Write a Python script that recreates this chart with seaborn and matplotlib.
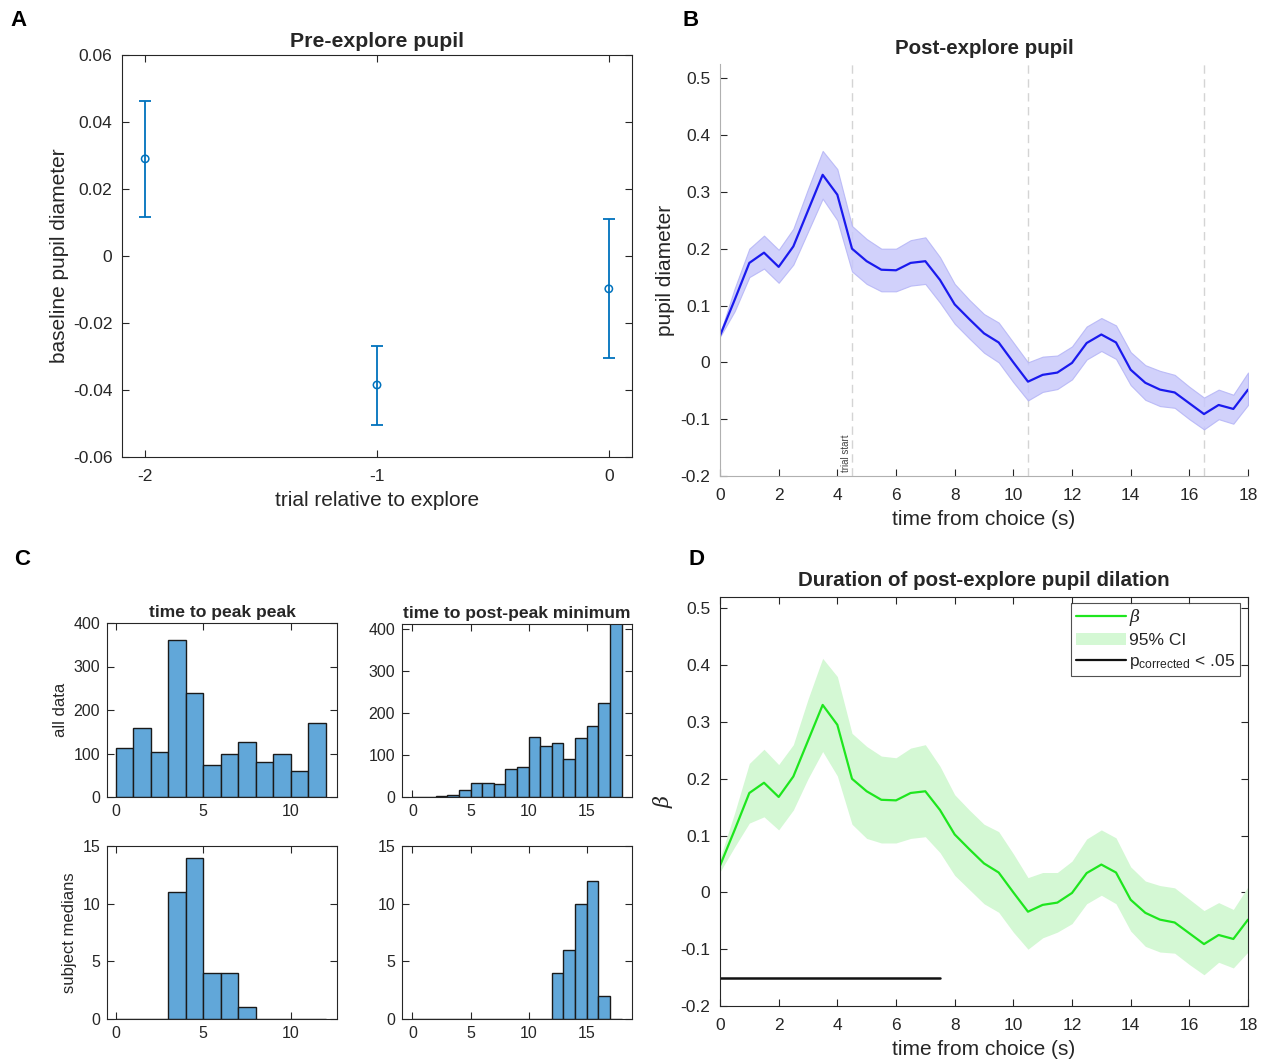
import numpy as np
import pandas as pd
import matplotlib
matplotlib.use("Agg")
import matplotlib.pyplot as plt
from matplotlib.lines import Line2D
from matplotlib.patches import Patch
import seaborn as sns

# ---------------- data ----------------
# Panel A
trial_rel = [-2, -1, 0]
base_pupil = [0.029, -0.0385, -0.0098]
base_lo = [0.0115, -0.0503, -0.0305]
base_hi = [0.0462, -0.0268, 0.0110]

# Panels B / D (time course, 0.5 s steps)
time_s = [0, 0.5, 1, 1.5, 2, 2.5, 3, 3.5, 4, 4.5, 5, 5.5, 6, 6.5, 7, 7.5, 8, 8.5, 9,
          9.5, 10, 10.5, 11, 11.5, 12, 12.5, 13, 13.5, 14, 14.5, 15, 15.5, 16, 16.5,
          17, 17.5, 18]
pupil_mean = [0.047, 0.110, 0.175, 0.193, 0.168, 0.204, 0.267, 0.330, 0.295, 0.200,
              0.178, 0.163, 0.162, 0.175, 0.178, 0.145, 0.102, 0.076, 0.051, 0.035,
              0.000, -0.034, -0.022, -0.018, -0.001, 0.034, 0.049, 0.035, -0.013,
              -0.036, -0.048, -0.053, -0.072, -0.091, -0.075, -0.082, -0.048]
pupil_upper = [0.050, 0.130, 0.200, 0.223, 0.198, 0.235, 0.305, 0.372, 0.340, 0.240,
               0.217, 0.200, 0.200, 0.215, 0.220, 0.185, 0.138, 0.110, 0.085, 0.070,
               0.035, 0.000, 0.010, 0.012, 0.028, 0.063, 0.078, 0.065, 0.018, -0.005,
               -0.015, -0.022, -0.043, -0.062, -0.048, -0.057, -0.018]
pupil_lower = [0.045, 0.090, 0.150, 0.165, 0.140, 0.172, 0.230, 0.288, 0.250, 0.160,
               0.138, 0.125, 0.125, 0.135, 0.138, 0.105, 0.068, 0.042, 0.017, 0.000,
               -0.035, -0.067, -0.052, -0.047, -0.030, 0.005, 0.020, 0.006, -0.040,
               -0.066, -0.077, -0.080, -0.100, -0.118, -0.100, -0.108, -0.075]
beta_upper = [0.060, 0.140, 0.227, 0.252, 0.225, 0.260, 0.340, 0.412, 0.380, 0.280,
              0.257, 0.240, 0.237, 0.254, 0.260, 0.222, 0.172, 0.145, 0.120, 0.107,
              0.068, 0.026, 0.035, 0.035, 0.055, 0.094, 0.110, 0.096, 0.045, 0.020,
              0.012, 0.008, -0.012, -0.032, -0.018, -0.030, 0.010]
beta_lower = [0.036, 0.080, 0.122, 0.133, 0.110, 0.145, 0.200, 0.248, 0.205, 0.120,
              0.095, 0.087, 0.087, 0.095, 0.098, 0.070, 0.030, 0.005, -0.020, -0.035,
              -0.070, -0.100, -0.080, -0.070, -0.055, -0.020, -0.005, -0.020, -0.068,
              -0.095, -0.105, -0.107, -0.127, -0.145, -0.123, -0.133, -0.105]
sig_start, sig_end, sig_level = 0.0, 7.5, -0.15
event_lines = [4.5, 10.5, 16.5]

# Panel C histograms (bin counts, unit-width bins)
peak_all = [113, 158, 103, 361, 238, 73, 100, 127, 80, 99, 60, 169]
min_all = [1, 1, 3, 5, 17, 33, 33, 31, 68, 72, 143, 122, 129, 91, 142, 170, 225, 460]
peak_subj = [0, 0, 0, 11, 14, 4, 4, 1, 0, 0, 0, 0]
min_subj = [0, 0, 0, 0, 0, 0, 0, 0, 0, 0, 0, 0, 4, 6, 10, 12, 2, 0]

# ---------------- style ----------------
sns.set_theme(style="white")
plt.rcParams["font.family"] = ["Liberation Sans", "DejaVu Sans"]
plt.rcParams["mathtext.fontset"] = "dejavuserif"
TXT = "#262626"
plt.rcParams.update({"text.color": TXT, "axes.labelcolor": TXT,
                     "xtick.color": TXT, "ytick.color": TXT,
                     "axes.edgecolor": "#262626", "axes.linewidth": 0.8})

W, H = 1277, 1062
fig = plt.figure(figsize=(W / 100, H / 100), dpi=100)


def add_ax(l, r, t, b):
    return fig.add_axes([l / W, 1 - b / H, (r - l) / W, (b - t) / H])


def matlab_ticks(ax, box=True, size=12, pad=8):
    ax.tick_params(direction="in", length=5, width=0.8, labelsize=size,
                   top=box, right=box, bottom=True, left=True, pad=pad)
    for s in ax.spines.values():
        s.set_visible(True)
        s.set_color("#262626")
    if not box:
        ax.spines["top"].set_visible(False)
        ax.spines["right"].set_visible(False)


def fmt(v):
    s = f"{v:g}"
    return "0" if s in ("0", "-0") else s

# ---------------- Panel A ----------------
axA = add_ax(122, 632, 55, 457)
dfA = pd.DataFrame({"trial": trial_rel, "pupil": base_pupil})
blue = "#0072BD"
axA.errorbar(dfA["trial"], dfA["pupil"],
             yerr=[np.array(base_pupil) - np.array(base_lo),
                   np.array(base_hi) - np.array(base_pupil)],
             fmt="none", ecolor=blue, elinewidth=1.3, capsize=4, capthick=1.3)
sns.scatterplot(data=dfA, x="trial", y="pupil", ax=axA, marker="o", s=28,
                facecolor="none", edgecolor=blue, linewidth=1.1, zorder=3)
axA.set_xlim(-2.1, 0.1)
axA.set_ylim(-0.06, 0.06)
axA.set_xticks([-2, -1, 0])
axA.set_xticklabels(["-2", "-1", "0"])
yt = [-0.06, -0.04, -0.02, 0, 0.02, 0.04, 0.06]
axA.set_yticks(yt)
axA.set_yticklabels([fmt(v) for v in yt])
matlab_ticks(axA, box=True, size=12.5, pad=9)
axA.tick_params(axis="y", pad=7)
axA.set_xlabel("trial relative to explore", fontsize=15, labelpad=5)
axA.set_ylabel("baseline pupil diameter", fontsize=15, labelpad=3)
axA.set_title("Pre-explore pupil", fontsize=15.3, fontweight="bold", pad=6)

# ---------------- Panel B ----------------
axB = add_ax(720, 1248, 64, 476)
dfB = pd.DataFrame({"time": time_s, "mean": pupil_mean})
axB.fill_between(time_s, pupil_lower, pupil_upper, color="#c9c9fb", alpha=0.85,
                 linewidth=0.8, edgecolor="#b4b4f6")
sns.lineplot(data=dfB, x="time", y="mean", ax=axB, color="#1a1aee", linewidth=1.6)
for xv in event_lines:
    axB.axvline(xv, color="#d4d4d4", linestyle=(0, (6, 4)), linewidth=1.0, zorder=0)
axB.text(event_lines[0] - 0.2, -0.193, "trial start", rotation=90, fontsize=7,
         color="#444444", ha="center", va="bottom")
axB.set_xlim(0, 18)
axB.set_ylim(-0.2, 0.525)
axB.set_xticks(range(0, 19, 2))
ytb = [-0.2, -0.1, 0, 0.1, 0.2, 0.3, 0.4, 0.5]
axB.set_yticks(ytb)
axB.set_yticklabels([fmt(v) for v in ytb])
matlab_ticks(axB, box=False, size=12.5, pad=9)
axB.tick_params(axis="y", pad=7)
for s in ("left", "bottom"):
    axB.spines[s].set_color("#b0b0b0")
axB.set_xlabel("time from choice (s)", fontsize=15, labelpad=5)
axB.set_ylabel("pupil diameter", fontsize=15, labelpad=4)
axB.set_title("Post-explore pupil", fontsize=14.8, fontweight="bold", pad=7)

# ---------------- Panel C ----------------
hist_color = "#61a7d9"


def hist_panel(ax, counts, xlim, ylim, yticks, xticks, title=None, ylabel=None):
    n = len(counts)
    dfh = pd.DataFrame({"bin": np.arange(n) + 0.5,
                        "count": np.asarray(counts, dtype=float)})
    sns.histplot(data=dfh, x="bin", weights="count", binwidth=1, binrange=(0, n),
                 ax=ax, color=hist_color, alpha=1.0, edgecolor="#1a1a1a",
                 linewidth=1.0)
    ax.set_xlim(*xlim)
    ax.set_ylim(*ylim)
    ax.set_yticks(yticks)
    ax.set_xticks(xticks)
    matlab_ticks(ax, box=True, size=11.5, pad=5)
    ax.set_xlabel("")
    ax.set_ylabel(ylabel if ylabel else "", fontsize=12, labelpad=4)
    if title:
        ax.set_title(title, fontsize=12.6, fontweight="bold", pad=4)


axC1 = add_ax(107, 337, 623, 797)
hist_panel(axC1, peak_all, (-0.5, 12.65), (0, 400), [0, 100, 200, 300, 400],
           [0, 5, 10], title="time to peak peak", ylabel="all data")
axC2 = add_ax(402, 632, 624, 797)
hist_panel(axC2, min_all, (-0.9, 18.9), (0, 413), [0, 100, 200, 300, 400],
           [0, 5, 10, 15], title="time to post-peak minimum")
axC3 = add_ax(107, 337, 846, 1019)
hist_panel(axC3, peak_subj, (-0.5, 12.65), (0, 15), [0, 5, 10, 15],
           [0, 5, 10], ylabel="subject medians")
axC4 = add_ax(402, 632, 846, 1019)
hist_panel(axC4, min_subj, (-0.9, 18.9), (0, 15), [0, 5, 10, 15],
           [0, 5, 10, 15])

# ---------------- Panel D ----------------
axD = add_ax(720, 1248, 597, 1006)
dfD = pd.DataFrame({"time": time_s, "beta": pupil_mean})
axD.fill_between(time_s, beta_lower, beta_upper, color="#d4f8d4", linewidth=0)
sns.lineplot(data=dfD, x="time", y="beta", ax=axD, color="#1ee61e", linewidth=1.6)
sns.lineplot(x=[sig_start, sig_end], y=[sig_level, sig_level], ax=axD,
             color="#111111", linewidth=1.8)
axD.set_xlim(0, 18)
axD.set_ylim(-0.2, 0.52)
axD.set_xticks(range(0, 19, 2))
axD.set_yticks(ytb)
axD.set_yticklabels([fmt(v) for v in ytb])
matlab_ticks(axD, box=True, size=12.5, pad=9)
axD.tick_params(axis="y", pad=7)
axD.set_xlabel("time from choice (s)", fontsize=15, labelpad=5)
axD.set_ylabel(r"$\beta$", fontsize=15, labelpad=4)
axD.set_title("Duration of post-explore pupil dilation", fontsize=14.8,
              fontweight="bold", pad=8)
handles = [Line2D([], [], color="#1ee61e", linewidth=1.6),
           Patch(facecolor="#d4f8d4", edgecolor="none"),
           Line2D([], [], color="#111111", linewidth=1.6)]
labels = [r"$\beta$", "95% CI", r"p$_{\mathregular{corrected}}$ < .05"]
leg = axD.legend(handles, labels, loc="upper right", fontsize=12.5, frameon=True,
                 fancybox=False, edgecolor="#262626", handlelength=2.9,
                 handletextpad=0.2, borderpad=0.25, labelspacing=0.25,
                 borderaxespad=0, bbox_to_anchor=(0.985, 0.985))
leg.get_frame().set_linewidth(0.8)

# ---------------- panel letters ----------------
for letter, (x, y) in {"A": (10, 26), "B": (682, 26), "C": (14, 565),
                       "D": (688, 565)}.items():
    fig.text(x / W, 1 - y / H, letter, fontsize=16, fontweight="bold",
             color="black", ha="left", va="baseline")

fig.savefig("out.png", dpi=100)
